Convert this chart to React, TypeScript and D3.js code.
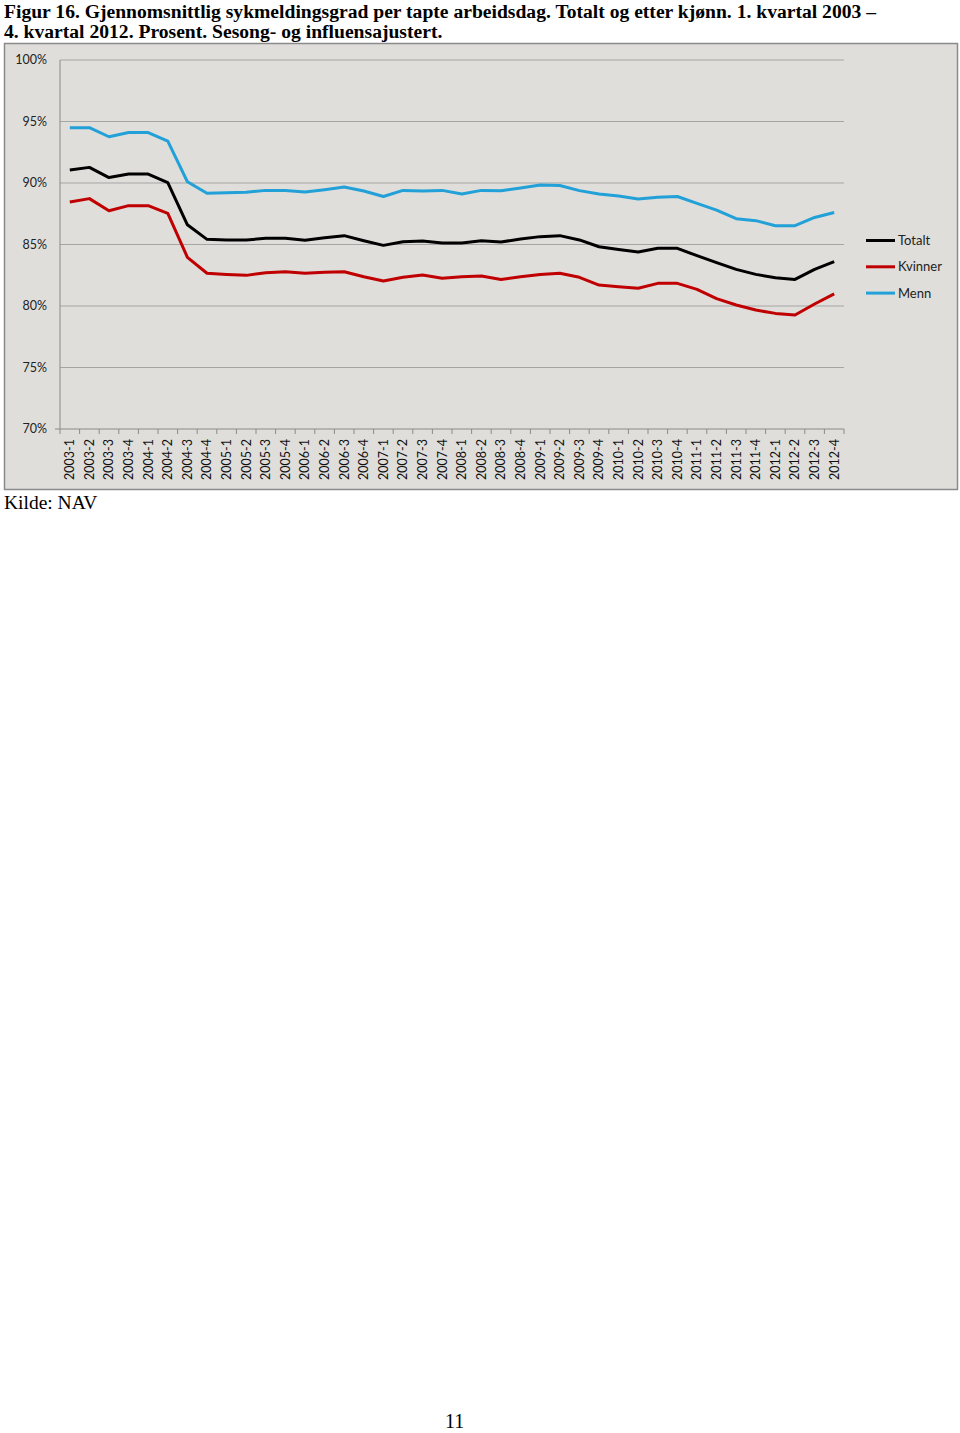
import React from "react";
import * as d3 from "d3";

const quarters: string[] = [];
for (let y = 2003; y <= 2012; y++) for (let q = 1; q <= 4; q++) quarters.push(`${y}-${q}`);

const totalt = [
  91.06, 91.27, 90.44, 90.73, 90.73, 90.03, 86.6, 85.42, 85.37, 85.37,
  85.5, 85.5, 85.34, 85.55, 85.72, 85.31, 84.93, 85.23, 85.28, 85.12,
  85.12, 85.31, 85.2, 85.45, 85.64, 85.72, 85.37, 84.82, 84.6, 84.39,
  84.69, 84.69, 84.09, 83.52, 82.98, 82.57, 82.3, 82.16, 82.98, 83.6,
];
const kvinner = [
  88.45, 88.73, 87.75, 88.16, 88.16, 87.53, 83.96, 82.66, 82.57, 82.49,
  82.71, 82.79, 82.66, 82.74, 82.79, 82.38, 82.03, 82.33, 82.52, 82.25,
  82.38, 82.44, 82.16, 82.38, 82.57, 82.66, 82.33, 81.7, 81.57, 81.44,
  81.84, 81.84, 81.35, 80.6, 80.08, 79.67, 79.4, 79.27, 80.16, 80.98,
];
const menn = [
  94.5, 94.5, 93.76, 94.1, 94.1, 93.4, 90.1, 89.16, 89.2, 89.25,
  89.4, 89.4, 89.27, 89.46, 89.67, 89.35, 88.9, 89.4, 89.35, 89.4,
  89.1, 89.4, 89.37, 89.6, 89.84, 89.8, 89.38, 89.1, 88.94, 88.7,
  88.84, 88.9, 88.35, 87.8, 87.1, 86.94, 86.53, 86.53, 87.2, 87.6,
];
const yTicks = [70, 75, 80, 85, 90, 95, 100];
const seriesNames = ["Totalt", "Kvinner", "Menn"];
const seriesColors = ["#000000", "#c00000", "#22a0d8"];
const seriesData = [totalt, kvinner, menn];

const titleLines = [
  "Figur 16. Gjennomsnittlig sykmeldingsgrad per tapte arbeidsdag. Totalt og etter kjønn. 1. kvartal 2003 –",
  "4. kvartal 2012. Prosent. Sesong- og influensajustert.",
];

export default function App() {
  const W = 960, H = 1433;
  const plotL = 60, plotR = 844, plotT = 60, plotB = 429;
  const x = d3.scaleBand<string>().domain(quarters).range([plotL, plotR]).padding(0);
  const y = d3.scaleLinear().domain([70, 100]).range([plotB, plotT]);
  const line = d3
    .line<number>()
    .x((_, i) => (x(quarters[i]) as number) + x.bandwidth() / 2)
    .y((d) => y(d));
  const axisFont = "Lato, 'Open Sans', sans-serif";
  const serif = "'Liberation Serif', 'Times New Roman', serif";
  return (
    <svg
      width={W}
      height={H}
      style={{ position: "absolute", left: 0, top: 0, background: "#fff" }}
    >
      {titleLines.map((t, i) => (
        <text key={i} x={4} y={18 + i * 20} fontFamily={serif} fontWeight="bold" fontSize={19.6} fill="#000">
          {t}
        </text>
      ))}
      <rect x={4.5} y={43.5} width={953} height={446} fill="#dfdedb" stroke="#8a8a8a" strokeWidth={1.5} />
      {yTicks.map((t) => (
        <g key={t}>
          {t > 70 && (
            <line x1={plotL} x2={plotR} y1={y(t)} y2={y(t)} stroke="#a5a5a5" strokeWidth={1} />
          )}
          <text x={47} y={y(t)} dy="0.35em" textAnchor="end" fontFamily={axisFont} fontSize={12.5} fill="#222">
            {t}%
          </text>
        </g>
      ))}
      <line x1={plotL} x2={plotL} y1={plotT} y2={plotB} stroke="#8a8a8a" strokeWidth={1} />
      <line x1={55} x2={plotR} y1={plotB} y2={plotB} stroke="#8a8a8a" strokeWidth={1} />
      {quarters.map((q, i) => (
        <line key={"tk" + i} x1={x(q) as number} x2={x(q) as number} y1={plotB} y2={plotB + 5} stroke="#8a8a8a" />
      ))}
      <line x1={plotR} x2={plotR} y1={plotB} y2={plotB + 5} stroke="#8a8a8a" />
      {quarters.map((q) => {
        const cx = (x(q) as number) + x.bandwidth() / 2;
        return (
          <text
            key={q}
            transform={`translate(${cx + 4.3},${480}) rotate(-90)`}
            fontFamily={axisFont}
            fontSize={12.5}
            fill="#111"
          >
            {q}
          </text>
        );
      })}
      {seriesData.map((d, i) => (
        <path
          key={seriesNames[i]}
          d={line(d) as string}
          fill="none"
          stroke={seriesColors[i]}
          strokeWidth={3}
          strokeLinejoin="round"
        />
      ))}
      {seriesNames.map((n, i) => {
        const ly = 240.5 + i * 26.3;
        return (
          <g key={n}>
            <line x1={866} x2={895} y1={ly} y2={ly} stroke={seriesColors[i]} strokeWidth={3} />
            <text x={898} y={ly} dy="0.35em" fontFamily={axisFont} fontSize={13} fill="#222">
              {n}
            </text>
          </g>
        );
      })}
      <text x={4} y={509} fontFamily={serif} fontSize={19.5} fill="#000">
        Kilde: NAV
      </text>
      <text x={445} y={1428} fontFamily={serif} fontSize={20} fill="#000">
        11
      </text>
    </svg>
  );
}
